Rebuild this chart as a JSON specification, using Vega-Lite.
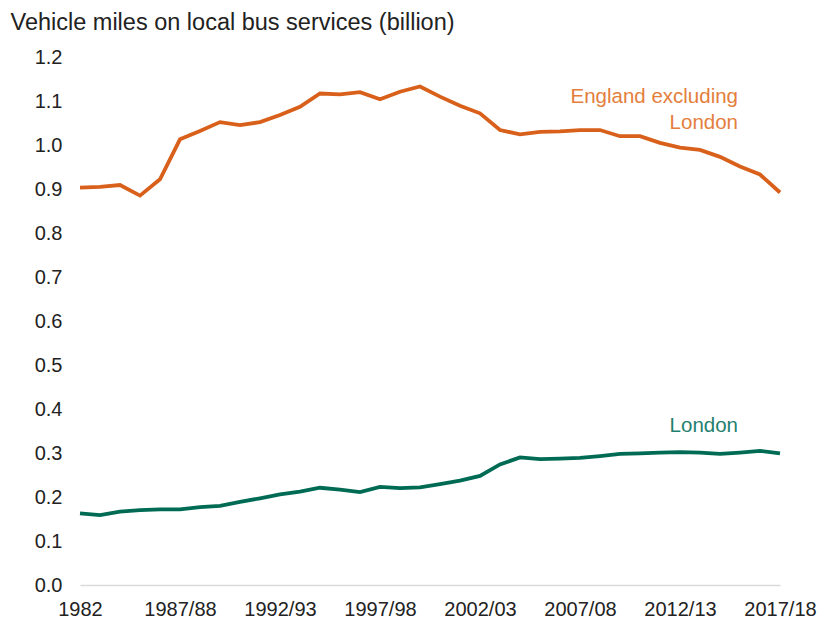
{
  "$schema": "https://vega.github.io/schema/vega-lite/v6.json",
  "width": 700,
  "height": 528,
  "autosize": {"type": "none"},
  "padding": {"left": 80, "top": 57, "right": 41, "bottom": 39},
  "background": "white",
  "config": {"view": {"stroke": null}, "font": "Liberation Sans"},
  "datasets": {
    "series": [
      {"period": "1982", "region": "England excluding London", "value": 0.903},
      {"period": "1983", "region": "England excluding London", "value": 0.905},
      {"period": "1984", "region": "England excluding London", "value": 0.909},
      {"period": "1985/86", "region": "England excluding London", "value": 0.885},
      {"period": "1986/87", "region": "England excluding London", "value": 0.922},
      {"period": "1987/88", "region": "England excluding London", "value": 1.013},
      {"period": "1988/89", "region": "England excluding London", "value": 1.032},
      {"period": "1989/90", "region": "England excluding London", "value": 1.052},
      {"period": "1990/91", "region": "England excluding London", "value": 1.045},
      {"period": "1991/92", "region": "England excluding London", "value": 1.052},
      {"period": "1992/93", "region": "England excluding London", "value": 1.068},
      {"period": "1993/94", "region": "England excluding London", "value": 1.087},
      {"period": "1994/95", "region": "England excluding London", "value": 1.117},
      {"period": "1995/96", "region": "England excluding London", "value": 1.115},
      {"period": "1996/97", "region": "England excluding London", "value": 1.120},
      {"period": "1997/98", "region": "England excluding London", "value": 1.104},
      {"period": "1998/99", "region": "England excluding London", "value": 1.121},
      {"period": "1999/00", "region": "England excluding London", "value": 1.133},
      {"period": "2000/01", "region": "England excluding London", "value": 1.110},
      {"period": "2001/02", "region": "England excluding London", "value": 1.089},
      {"period": "2002/03", "region": "England excluding London", "value": 1.072},
      {"period": "2003/04", "region": "England excluding London", "value": 1.034},
      {"period": "2004/05", "region": "England excluding London", "value": 1.024},
      {"period": "2005/06", "region": "England excluding London", "value": 1.030},
      {"period": "2006/07", "region": "England excluding London", "value": 1.031},
      {"period": "2007/08", "region": "England excluding London", "value": 1.034},
      {"period": "2008/09", "region": "England excluding London", "value": 1.034},
      {"period": "2009/10", "region": "England excluding London", "value": 1.020},
      {"period": "2010/11", "region": "England excluding London", "value": 1.020},
      {"period": "2011/12", "region": "England excluding London", "value": 1.005},
      {"period": "2012/13", "region": "England excluding London", "value": 0.994},
      {"period": "2013/14", "region": "England excluding London", "value": 0.989},
      {"period": "2014/15", "region": "England excluding London", "value": 0.973},
      {"period": "2015/16", "region": "England excluding London", "value": 0.951},
      {"period": "2016/17", "region": "England excluding London", "value": 0.933},
      {"period": "2017/18", "region": "England excluding London", "value": 0.892},
      {"period": "1982", "region": "London", "value": 0.163},
      {"period": "1983", "region": "London", "value": 0.159},
      {"period": "1984", "region": "London", "value": 0.167},
      {"period": "1985/86", "region": "London", "value": 0.170},
      {"period": "1986/87", "region": "London", "value": 0.172},
      {"period": "1987/88", "region": "London", "value": 0.172},
      {"period": "1988/89", "region": "London", "value": 0.177},
      {"period": "1989/90", "region": "London", "value": 0.180},
      {"period": "1990/91", "region": "London", "value": 0.189},
      {"period": "1991/92", "region": "London", "value": 0.197},
      {"period": "1992/93", "region": "London", "value": 0.206},
      {"period": "1993/94", "region": "London", "value": 0.212},
      {"period": "1994/95", "region": "London", "value": 0.221},
      {"period": "1995/96", "region": "London", "value": 0.217},
      {"period": "1996/97", "region": "London", "value": 0.211},
      {"period": "1997/98", "region": "London", "value": 0.223},
      {"period": "1998/99", "region": "London", "value": 0.220},
      {"period": "1999/00", "region": "London", "value": 0.222},
      {"period": "2000/01", "region": "London", "value": 0.229},
      {"period": "2001/02", "region": "London", "value": 0.237},
      {"period": "2002/03", "region": "London", "value": 0.248},
      {"period": "2003/04", "region": "London", "value": 0.274},
      {"period": "2004/05", "region": "London", "value": 0.290},
      {"period": "2005/06", "region": "London", "value": 0.286},
      {"period": "2006/07", "region": "London", "value": 0.287},
      {"period": "2007/08", "region": "London", "value": 0.289},
      {"period": "2008/09", "region": "London", "value": 0.293},
      {"period": "2009/10", "region": "London", "value": 0.298},
      {"period": "2010/11", "region": "London", "value": 0.299},
      {"period": "2011/12", "region": "London", "value": 0.301},
      {"period": "2012/13", "region": "London", "value": 0.302},
      {"period": "2013/14", "region": "London", "value": 0.301},
      {"period": "2014/15", "region": "London", "value": 0.298},
      {"period": "2015/16", "region": "London", "value": 0.301},
      {"period": "2016/17", "region": "London", "value": 0.305},
      {"period": "2017/18", "region": "London", "value": 0.299}
    ],
    "labels": [
      {"period": "2015/16", "region": "England excluding London", "value": 1.108, "label": "England  excluding"},
      {"period": "2015/16", "region": "England excluding London", "value": 1.051, "label": "London"},
      {"period": "2015/16", "region": "London", "value": 0.361, "label": "London"}
    ]
  },
  "layer": [
    {
      "data": {"name": "series"},
      "mark": {"type": "line", "strokeWidth": 3.8},
      "encoding": {
        "x": {
          "field": "period",
          "type": "ordinal",
          "scale": {"type": "point", "padding": 0},
          "axis": {
            "title": null,
            "values": ["1982", "1987/88", "1992/93", "1997/98", "2002/03", "2007/08", "2012/13", "2017/18"],
            "labelAngle": 0,
            "labelFontSize": 20,
            "labelColor": "#222222",
            "labelPadding": 14,
            "ticks": false,
            "grid": false,
            "domainColor": "#D9D9D9",
            "domainWidth": 1.5
          }
        },
        "y": {
          "field": "value",
          "type": "quantitative",
          "scale": {"domain": [0, 1.2], "nice": false, "zero": true},
          "axis": {
            "title": "Vehicle miles on local bus services (billion)",
            "titleAngle": 0,
            "titleAlign": "left",
            "titleBaseline": "middle",
            "titleX": -70,
            "titleY": -35,
            "titleFontSize": 23.5,
            "titleFontWeight": "normal",
            "titleColor": "#222222",
            "values": [0, 0.1, 0.2, 0.3, 0.4, 0.5, 0.6, 0.7, 0.8, 0.9, 1.0, 1.1, 1.2],
            "format": ".1f",
            "labelFontSize": 20,
            "labelColor": "#222222",
            "labelPadding": 18,
            "ticks": false,
            "domain": false,
            "grid": false
          }
        },
        "color": {
          "field": "region",
          "type": "nominal",
          "scale": {"domain": ["England excluding London", "London"], "range": ["#D8601B", "#006B54"]},
          "legend": null
        }
      }
    },
    {
      "data": {"name": "labels"},
      "mark": {"type": "text", "align": "right", "baseline": "middle", "fontSize": 20.5, "dx": -2},
      "encoding": {
        "x": {"field": "period", "type": "ordinal"},
        "y": {"field": "value", "type": "quantitative"},
        "text": {"field": "label"},
        "color": {
          "field": "region",
          "type": "nominal",
          "scale": {"domain": ["England excluding London", "London"], "range": ["#E47E3C", "#1F7F6E"]},
          "legend": null
        }
      }
    }
  ],
  "resolve": {"scale": {"color": "independent"}}
}
